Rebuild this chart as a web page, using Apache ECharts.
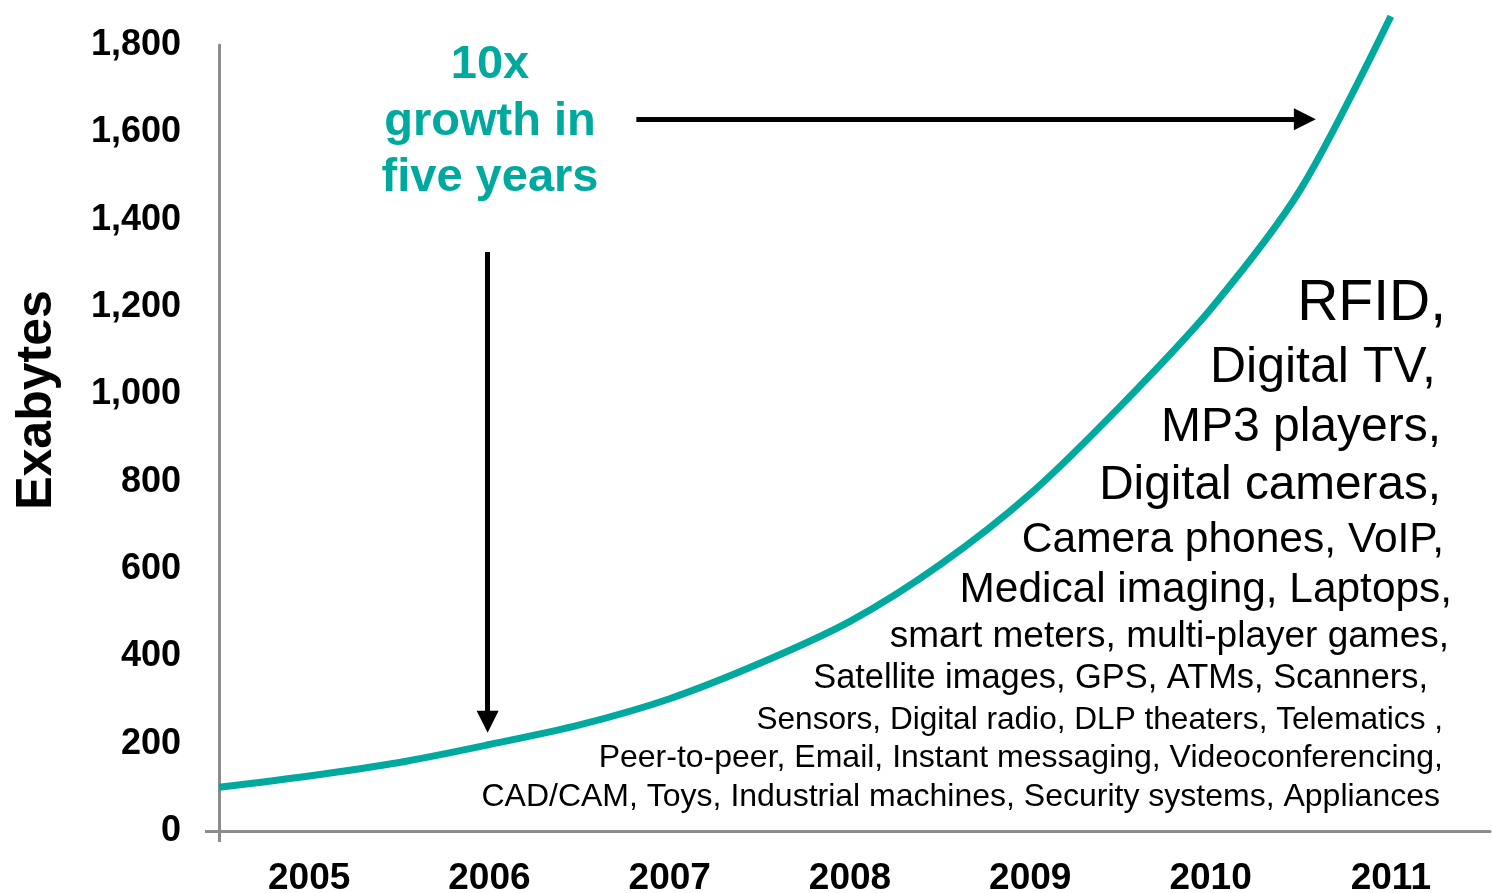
<!DOCTYPE html>
<html>
<head>
<meta charset="utf-8">
<script src="https://cdn.jsdelivr.net/npm/echarts@6/dist/echarts.min.js"></script>
<style>
  html, body { margin: 0; padding: 0; background: #fff; }
  #main { width: 1492px; height: 893px; }
</style>
</head>
<body>
<div id="main"></div>
<script>
// data (half-year steps)
const years = [2004.5, 2005, 2005.5, 2006, 2006.5, 2007, 2007.5, 2008, 2008.5, 2009, 2009.5, 2010, 2010.5, 2011];
const exabytes = [100, 126, 157, 198, 243, 303, 384, 480, 610, 772, 973, 1195, 1470, 1866];
const yearLabels = [2005, 2006, 2007, 2008, 2009, 2010, 2011];
const growthText = ['10x', 'growth in', 'five years'];
const sources = [
  'RFID,',
  'Digital TV,',
  'MP3 players,',
  'Digital cameras,',
  'Camera phones, VoIP,',
  'Medical imaging, Laptops,',
  'smart meters, multi-player games,',
  'Satellite images, GPS, ATMs, Scanners,',
  'Sensors, Digital radio, DLP theaters, Telematics ,',
  'Peer-to-peer, Email, Instant messaging, Videoconferencing,',
  'CAD/CAM, Toys, Industrial machines, Security systems, Appliances'
];

const teal = '#00a99d';
const axisGray = '#8c8c8c';
const font = "'Liberation Sans', Arial, sans-serif";

// layout of the text block: [right x, centre y, font size]
const srcLayout = [
  [1446, 304, 57], [1436, 368, 50], [1441, 428, 48], [1441, 486, 47.7],
  [1444, 540, 42.5], [1452, 590, 42.4], [1449, 637, 37], [1428, 679, 34.4],
  [1443, 720, 31.6], [1443, 758, 32], [1440, 797, 32]
];

let graphics = [];
sources.forEach(function (t, i) {
  let l = srcLayout[i];
  graphics.push({
    type: 'text', x: l[0], y: l[1], silent: true,
    style: { text: t, fill: '#000', font: l[2] + 'px ' + font, textAlign: 'right', textVerticalAlign: 'middle' }
  });
});
let gy = [65, 122, 178];
growthText.forEach(function (t, i) {
  graphics.push({
    type: 'text', x: 490, y: gy[i], silent: true,
    style: { text: t, fill: teal, font: 'bold 47px ' + font, textAlign: 'center', textVerticalAlign: 'middle' }
  });
});
graphics.push({
  type: 'text', x: 37, y: 400, rotation: Math.PI / 2, silent: true,
  style: { text: 'Exabytes', fill: '#000', font: 'bold 50px ' + font, textAlign: 'center', textVerticalAlign: 'middle' }
});

let chart = echarts.init(document.getElementById('main'), null, { renderer: 'canvas' });

let option = {
  animation: false,
  grid: { left: 219, right: 2, top: 45, bottom: 62, outerBoundsMode: 'none' },
  xAxis: {
    type: 'value',
    min: 2004.5,
    max: 2011.55,
    splitLine: { show: false },
    axisLine: { lineStyle: { color: axisGray, width: 3 } },
    axisTick: { show: true, customValues: [2004.5], length: 11, lineStyle: { color: axisGray, width: 3 } },
    axisLabel: {
      customValues: yearLabels,
      formatter: function (v) { return String(v); },
      margin: 29,
      color: '#000',
      fontSize: 37,
      fontWeight: 'bold',
      fontFamily: font
    }
  },
  yAxis: {
    type: 'value',
    min: 0,
    max: 1800,
    interval: 200,
    splitLine: { show: false },
    axisLine: { show: true, lineStyle: { color: axisGray, width: 3 } },
    axisTick: { show: true, customValues: [0], length: 14, lineStyle: { color: axisGray, width: 3 } },
    axisLabel: {
      margin: 38,
      color: '#000',
      fontSize: 36,
      fontWeight: 'bold',
      fontFamily: font
    }
  },
  graphic: graphics,
  series: [{
    type: 'line',
    data: years.map(function (y, i) { return [y, exabytes[i]]; }),
    smooth: 0.3,
    clip: false,
    showSymbol: false,
    symbol: 'none',
    lineStyle: { color: teal, width: 7 },
    markLine: {
      silent: true,
      symbol: ['none', 'triangle'],
      symbolSize: [22, 22],
      label: { show: false },
      lineStyle: { color: '#000', width: 5, type: 'solid' },
      data: [
        [{ coord: [2006.815, 1630] }, { coord: [2010.523, 1630] }],
        [{ coord: [2005.99, 1326] }, { coord: [2005.99, 250] }]
      ]
    }
  }]
};
chart.setOption(option);
</script>
</body>
</html>
